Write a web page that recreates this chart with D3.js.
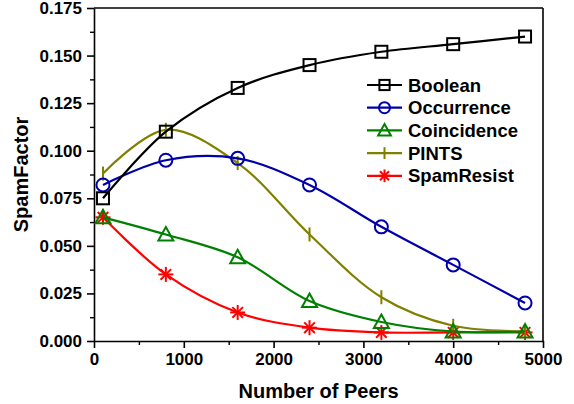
<!DOCTYPE html>
<html>
<head>
<meta charset="utf-8">
<script src="https://cdn.jsdelivr.net/npm/d3@7"></script>
<style>
  body { margin: 0; background: #fff; }
  text { font-family: "Liberation Sans", Arial, sans-serif; font-weight: bold; }
</style>
</head>
<body>
<div id="chart"></div>
<script>
// data
const peers = [100, 800, 1600, 2400, 3200, 4000, 4800];
const booleanVals     = [0.075, 0.110, 0.133, 0.145, 0.152, 0.156, 0.160];
const occurrenceVals  = [0.082, 0.095, 0.096, 0.082, 0.060, 0.040, 0.020];
const coincidenceVals = [0.065, 0.056, 0.044, 0.021, 0.010, 0.005, 0.005];
const pintsVals       = [0.088, 0.111, 0.0935, 0.056, 0.023, 0.008, 0.005];
const spamResistVals  = [0.065, 0.035, 0.015, 0.007, 0.0045, 0.0045, 0.0045];
const xTicks = [0, 1000, 2000, 3000, 4000, 5000];
const yTicks = [0, 0.025, 0.05, 0.075, 0.1, 0.125, 0.15, 0.175];

const series = [
  {name: "Boolean", values: booleanVals, color: "#000000", marker: "square"},
  {name: "Occurrence", values: occurrenceVals, color: "#0000aa", marker: "circle"},
  {name: "Coincidence", values: coincidenceVals, color: "#008000", marker: "triangle"},
  {name: "PINTS", values: pintsVals, color: "#808000", marker: "vbar"},
  {name: "SpamResist", values: spamResistVals, color: "#ff0000", marker: "star"}
];

const W = 574, H = 404;
const margin = {top: 8, right: 31, bottom: 63, left: 94};
const width = W - margin.left - margin.right;
const height = H - margin.top - margin.bottom;

const svg = d3.select("#chart").append("svg")
  .attr("width", W).attr("height", H);
const g = svg.append("g")
  .attr("transform", `translate(${margin.left},${margin.top})`);

const x = d3.scaleLinear().domain([0, 5000]).range([0, width]);
const y = d3.scaleLinear().domain([0, 0.175]).range([height, 0]);

// minor ticks
const xMinor = d3.range(500, 5000, 1000);
const yMinor = d3.range(0.0125, 0.175, 0.025);

g.append("g").attr("class", "x-minor")
  .attr("transform", `translate(0,${height})`)
  .call(d3.axisBottom(x).tickValues(xMinor).tickSize(4).tickFormat(""))
  .call(a => a.select(".domain").remove());
g.append("g").attr("class", "y-minor")
  .call(d3.axisLeft(y).tickValues(yMinor).tickSize(4).tickFormat(""))
  .call(a => a.select(".domain").remove());

const xAxis = g.append("g")
  .attr("transform", `translate(0,${height})`)
  .call(d3.axisBottom(x).tickValues(xTicks).tickSize(7).tickPadding(5).tickSizeOuter(0).tickFormat(d3.format("d")));
const yAxis = g.append("g")
  .call(d3.axisLeft(y).tickValues(yTicks).tickSize(7).tickPadding(5).tickSizeOuter(0).tickFormat(d3.format(".3f")));

[xAxis, yAxis].forEach(a => {
  a.selectAll("text").style("font-size", "17px").attr("fill", "#000");
  a.selectAll("line, path").attr("stroke", "#000").attr("stroke-width", 1.6);
});
g.selectAll(".x-minor line, .y-minor line").attr("stroke", "#000").attr("stroke-width", 1.4);

// frame top and right
g.append("line").attr("x1", 0).attr("x2", width).attr("y1", 0).attr("y2", 0)
  .attr("stroke", "#000").attr("stroke-width", 1.6);
g.append("line").attr("x1", width).attr("x2", width).attr("y1", 0).attr("y2", height)
  .attr("stroke", "#000").attr("stroke-width", 1.6);

function drawMarker(sel, type, color, k) {
  k = k || 1;
  const s = sel.append("g").attr("stroke", color).attr("stroke-width", 2).attr("fill", "none");
  if (type === "square") {
    s.append("rect").attr("x", -6 * k).attr("y", -6 * k).attr("width", 12 * k).attr("height", 12 * k);
  } else if (type === "circle") {
    s.append("circle").attr("r", 6.5 * k);
  } else if (type === "triangle") {
    s.append("path").attr("d", `M0,${-7.5 * k}L${7.5 * k},${6 * k}L${-7.5 * k},${6 * k}Z`);
  } else if (type === "vbar") {
    s.append("line").attr("y1", -7 * k).attr("y2", 7 * k);
  } else if (type === "star") {
    const r = 7.5 * k;
    [0, 45, 90, 135].forEach(a => {
      const rad = a * Math.PI / 180;
      s.append("line")
        .attr("x1", -r * Math.cos(rad)).attr("y1", -r * Math.sin(rad))
        .attr("x2", r * Math.cos(rad)).attr("y2", r * Math.sin(rad));
    });
  }
}

const line = d3.line()
  .x(d => x(d[0]))
  .y(d => y(d[1]))
  .curve(d3.curveCatmullRom.alpha(0.5));

// draw last series first so Boolean ends on top
series.slice().reverse().forEach(s => {
  const pts = peers.map((p, i) => [p, s.values[i]]);
  g.append("path")
    .datum(pts)
    .attr("fill", "none")
    .attr("stroke", s.color)
    .attr("stroke-width", 2.2)
    .attr("d", line);
  g.selectAll(null)
    .data(pts)
    .enter().append("g")
    .attr("transform", d => `translate(${x(d[0])},${y(d[1])})`)
    .each(function() { drawMarker(d3.select(this), s.marker, s.color); });
});

// legend
const legend = g.append("g").attr("transform", "translate(273,77)");
series.forEach((s, i) => {
  const row = legend.append("g").attr("transform", `translate(0,${i * 22.7})`);
  row.append("line").attr("x1", 0).attr("x2", 35)
    .attr("stroke", s.color).attr("stroke-width", 2.2);
  const m = row.append("g").attr("transform", "translate(17.5,0)");
  drawMarker(m, s.marker, s.color, 0.85);
  row.append("text").attr("x", 41).attr("dy", "0.36em")
    .style("font-size", "18.5px").text(s.name);
});

// axis titles
svg.append("text")
  .attr("x", margin.left + width / 2).attr("y", 398)
  .attr("text-anchor", "middle").style("font-size", "20px")
  .text("Number of Peers");
svg.append("text")
  .attr("transform", `translate(28,${margin.top + height / 2}) rotate(-90)`)
  .attr("text-anchor", "middle").style("font-size", "20px")
  .text("SpamFactor");
</script>
</body>
</html>
